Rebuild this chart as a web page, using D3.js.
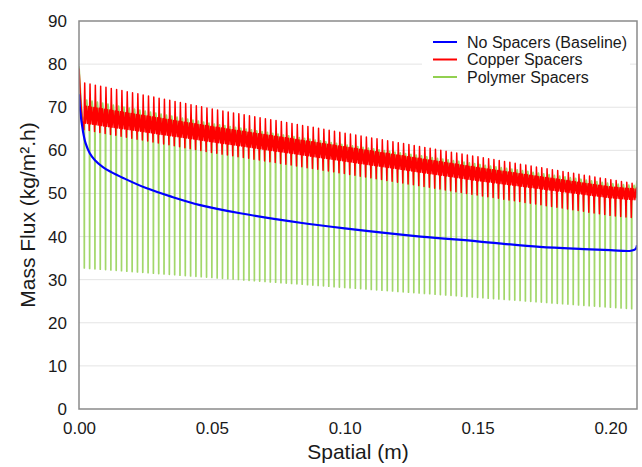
<!DOCTYPE html>
<html>
<head>
<meta charset="utf-8">
<script src="https://cdn.jsdelivr.net/npm/d3@7"></script>
<style>
  body { margin: 0; background: #fff; }
  text { font-family: "Liberation Sans", Arial, sans-serif; fill: #1a1a1a; }
</style>
</head>
<body>
<svg width="642" height="467"></svg>
<script>
var svg = d3.select('svg');
var w = 642;
var h = 467;
var m = { left: 79, right: 5, top: 21, bottom: 58 };

// axis ticks
var xTicks = [0, 0.05, 0.10, 0.15, 0.20];
var yTicks = [0, 10, 20, 30, 40, 50, 60, 70, 80, 90];

// baseline (no spacers)
var blueX = [0, 0.0004, 0.0015, 0.0025, 0.004, 0.006, 0.009, 0.012, 0.0166, 0.025, 0.035, 0.0456, 0.0607, 0.0833, 0.1, 0.1286, 0.15, 0.1734, 0.19, 0.2, 0.2077, 0.2095, 0.21];
var blueY = [73, 69.5, 64.4, 61.6, 59.4, 57.7, 56.1, 55.0, 53.6, 51.3, 49.2, 47.3, 45.4, 43.2, 41.9, 40.0, 38.9, 37.6, 37.1, 36.85, 36.7, 37.1, 38.0];

// spacer positions along the channel (one every 2 mm)
var pitch = 0.002;
var nSpacers = 104;

// envelopes of the spacer series, read at these stations
var envX = [0, 0.05, 0.1, 0.15, 0.2, 0.21];
var redPeak = [75.9, 69.6, 64.0, 58.5, 53.2, 52.2];
var redDip = [65.0, 59.5, 54.6, 49.6, 44.9, 44.3];
var redHi = [70.5, 65.5, 60.8, 56.0, 51.5, 51.0];
var redLo = [66.5, 62.0, 57.5, 53.0, 49.0, 48.5];
var greenTop = [72.0, 66.2, 61.3, 56.8, 52.3, 51.8];
var greenLow = [67.0, 62.5, 58.0, 53.5, 49.5, 49.0];
var greenDip = [32.8, 30.5, 28.2, 25.9, 23.6, 23.2];

// entry and exit points of the spacer series
var redStartX = [0, 0.0006, 0.0012], redStartY = [79, 72, 67];
var greenStartX = [0, 0.0006, 0.0012], greenStartY = [79.5, 73, 68];
var redEndX = [0.2095, 0.21], redEndY = [49.2, 51.5];
var greenEndX = [0.2095, 0.21], greenEndY = [50, 53];

// shape of one spacer cell: offset from the spacer and which envelope
var redCell = [[-0.00015, 'dip'], [0.00015, 'peak'], [0.00045, 'lo'], [0.0008, 'hi'], [0.0012, 'lo'], [0.0016, 'hi']];
var greenCell = [[-0.00008, 'low'], [0, 'dip'], [0.00008, 'low'], [0.0009, 'top'], [0.0017, 'low']];

var x = d3.scaleLinear().domain([0, 0.21]).range([m.left, w - m.right]);
var y = d3.scaleLinear().domain([0, 90]).range([h - m.bottom, m.top]);

function env(arr) { return d3.scaleLinear().domain(envX).range(arr) }
var redEnv = { dip: env(redDip), peak: env(redPeak), lo: env(redLo), hi: env(redHi) };
var greenEnv = { low: env(greenLow), dip: env(greenDip), top: env(greenTop) };

function build(sx, sy, cell, e, ex, ey) {
  var pts = sx.map(function(v, i) { return [v, sy[i]] });
  for (var k = 1; k <= nSpacers; k++) {
    var s = k * pitch;
    cell.forEach(function(c) { pts.push([s + c[0], e[c[1]](s + c[0])]) });
  }
  ex.forEach(function(v, i) { pts.push([v, ey[i]]) });
  return pts;
}

var red = build(redStartX, redStartY, redCell, redEnv, redEndX, redEndY);
var green = build(greenStartX, greenStartY, greenCell, greenEnv, greenEndX, greenEndY);
var blue = blueX.map(function(v, i) { return [v, blueY[i]] });

// gridlines
svg.append('g').selectAll('line')
  .data(yTicks.filter(function(d) { return d > 0 && d < 90 })).enter()
  .append('line')
  .attr('x1', m.left).attr('x2', w - m.right)
  .attr('y1', y).attr('y2', y)
  .attr('stroke', '#e4e4e4').attr('stroke-width', 1);

svg.append('clipPath').attr('id', 'plot')
  .append('rect').attr('x', m.left).attr('y', m.top)
  .attr('width', w - m.left - m.right).attr('height', h - m.top - m.bottom);

var line = d3.line().x(function(d) { return x(d[0]) }).y(function(d) { return y(d[1]) });
var plot = svg.append('g').attr('clip-path', 'url(#plot)');

plot.append('path').datum(green).attr('d', line)
  .attr('fill', 'none').attr('stroke', '#92d050').attr('stroke-width', 1.7)
  .attr('stroke-opacity', 0.85).attr('stroke-linejoin', 'round');
plot.append('path').datum(red).attr('d', line)
  .attr('fill', 'none').attr('stroke', '#ff0000').attr('stroke-width', 1.5)
  .attr('stroke-linejoin', 'round');
plot.append('path').datum(blue).attr('d', line.curve(d3.curveCatmullRom.alpha(0.5)))
  .attr('fill', 'none').attr('stroke', '#0000ff').attr('stroke-width', 2.2);

// frame
svg.append('rect').attr('x', m.left).attr('y', m.top)
  .attr('width', w - m.left - m.right).attr('height', h - m.top - m.bottom)
  .attr('fill', 'none').attr('stroke', '#8a8a8a').attr('stroke-width', 1.5);

// axes (labels only, no tick marks)
var yAxis = svg.append('g').attr('transform', 'translate(' + m.left + ',0)')
  .call(d3.axisLeft(y).tickValues(yTicks).tickSize(0).tickPadding(12));
var xAxis = svg.append('g').attr('transform', 'translate(0,' + (h - m.bottom) + ')')
  .call(d3.axisBottom(x).tickValues(xTicks).tickFormat(d3.format('.2f')).tickSize(0).tickPadding(13));
[yAxis, xAxis].forEach(function(a) {
  a.select('.domain').remove();
  a.selectAll('text').attr('font-size', 17).attr('font-family', '"Liberation Sans", Arial, sans-serif').attr('fill', '#1a1a1a');
});

svg.append('text').attr('x', (m.left + w - m.right) / 2).attr('y', 459)
  .attr('text-anchor', 'middle').attr('font-size', 21).text('Spatial (m)');
svg.append('text').attr('transform', 'translate(35,' + ((m.top + h - m.bottom) / 2) + ') rotate(-90)')
  .attr('text-anchor', 'middle').attr('font-size', 21).text('Mass Flux (kg/m\u00b2.h)');

// legend
var legend = [['No Spacers (Baseline)', '#0000ff'], ['Copper Spacers', '#ff0000'], ['Polymer Spacers', '#92d050']];
var lg = svg.append('g');
lg.append('rect').attr('x', 422).attr('y', 29).attr('width', 208).attr('height', 58).attr('fill', '#fff');
legend.forEach(function(d, i) {
  var ly = 42 + i * 17.5;
  lg.append('line').attr('x1', 433).attr('x2', 457).attr('y1', ly).attr('y2', ly)
    .attr('stroke', d[1]).attr('stroke-width', 2);
  lg.append('text').attr('x', 467).attr('y', ly).attr('dy', '0.35em')
    .attr('font-size', 16).text(d[0]);
});
</script>
</body>
</html>
